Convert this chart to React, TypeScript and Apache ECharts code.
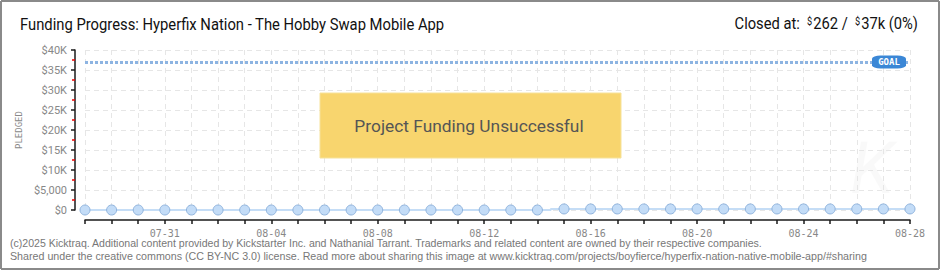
import React, { useEffect, useRef } from "react";
import * as echarts from "echarts";

const dates = [
  "07-28", "07-29", "07-30", "07-31", "08-01", "08-02", "08-03", "08-04",
  "08-05", "08-06", "08-07", "08-08", "08-09", "08-10", "08-11", "08-12",
  "08-13", "08-14", "08-15", "08-16", "08-17", "08-18", "08-19", "08-20",
  "08-21", "08-22", "08-23", "08-24", "08-25", "08-26", "08-27", "08-28",
];
const pledged = [
  0, 0, 0, 0, 0, 0, 0, 0,
  0, 0, 0, 0, 0, 0, 0, 0,
  0, 0, 262, 262, 262, 262, 262, 262,
  262, 262, 262, 262, 262, 262, 262, 262,
];
const goal = 37000;
const titleText = "Funding Progress: Hyperfix Nation - The Hobby Swap Mobile App";
const footerLines = [
  "(c)2025 Kicktraq. Additional content provided by Kickstarter Inc. and Nathanial Tarrant. Trademarks and related content are owned by their respective companies.",
  "Shared under the creative commons (CC BY-NC 3.0) license. Read more about sharing this image at www.kicktraq.com/projects/boyfierce/hyperfix-nation-native-mobile-app/#sharing",
];

function fmtY(v: number): string {
  if (v === 0) return "$0";
  if (v < 10000) return "$" + v.toLocaleString("en-US");
  return "$" + v / 1000 + "K";
}

const AXIS_COLOR = "#1a1a1a";

export default function App() {
  const ref = useRef<HTMLDivElement>(null);
  useEffect(() => {
    if (!ref.current) return;
    const chart = echarts.init(ref.current, undefined, { renderer: "svg" });
    chart.setOption({
      animation: false,
      backgroundColor: "#fff",
      grid: [
        { left: 85, right: 30, top: 50, bottom: 60 },
        { left: 85, right: 30, top: 210, height: 10 },
      ],
      xAxis: [
        {
          type: "category",
          gridIndex: 0,
          data: dates,
          boundaryGap: false,
          axisLine: { show: false },
          axisTick: { show: false },
          axisLabel: { show: false },
          splitLine: { show: true, interval: 0, lineStyle: { color: "#e6e6e6", type: [5, 4] } },
        },
        {
          type: "category",
          gridIndex: 1,
          data: dates,
          boundaryGap: false,
          axisLine: { show: true, lineStyle: { color: AXIS_COLOR, width: 1.5 } },
          axisTick: { show: true, interval: 0, length: 4, lineStyle: { color: AXIS_COLOR, width: 1.5 } },
          axisLabel: {
            interval: 0,
            color: "#888",
            fontSize: 10,
            fontFamily: "DejaVu Sans Mono",
            margin: 8,
            formatter: (v: string, i: number) => (i % 4 === 3 ? v : ""),
          },
          splitLine: { show: false },
        },
      ],
      yAxis: [
        {
          type: "value",
          gridIndex: 0,
          min: 0,
          max: 40000,
          interval: 5000,
          offset: 10,
          name: "PLEDGED",
          nameLocation: "middle",
          nameGap: 52,
          nameTextStyle: { color: "#888", fontSize: 9, fontFamily: "DejaVu Sans Mono" },
          axisLine: { show: true, lineStyle: { color: AXIS_COLOR, width: 1.5 } },
          axisTick: { show: true, length: 4, lineStyle: { color: AXIS_COLOR, width: 1.5 } },
          minorTick: { show: true, splitNumber: 2, length: 3, lineStyle: { color: "#e00", width: 1.5 } },
          axisLabel: { formatter: fmtY, color: "#888", fontSize: 11, fontFamily: "Roboto", margin: 8 },
          splitLine: { show: true, lineStyle: { color: "#e6e6e6", type: [5, 4] } },
        },
        { type: "value", gridIndex: 1, min: 0, max: 1, show: false },
      ],
      series: [
        {
          type: "line",
          xAxisIndex: 0,
          yAxisIndex: 0,
          data: pledged,
          step: "middle",
          symbol: "circle",
          symbolSize: 10,
          z: 5,
          itemStyle: { color: "#c3dcf7", borderColor: "#8fb3dd", borderWidth: 1 },
          lineStyle: { color: "#c5ddf6", width: 2 },
          markLine: {
            silent: true,
            symbol: "none",
            label: { show: false },
            lineStyle: { color: "#8db4e2", type: [3, 2], width: 3 },
            data: [{ yAxis: goal }],
          },
          markPoint: {
            silent: true,
            data: [
              {
                coord: [dates[dates.length - 1], goal],
                symbol: "roundRect",
                symbolSize: [34, 13],
                symbolOffset: [-21, 0],
                itemStyle: { color: "#3b87d6" },
                label: {
                  show: true,
                  position: "inside",
                  formatter: "GOAL",
                  color: "#fff",
                  fontSize: 9,
                  fontWeight: "bold",
                  fontFamily: "DejaVu Sans Mono",
                },
              },
            ],
          },
        },
        { type: "line", xAxisIndex: 1, yAxisIndex: 1, data: [] },
      ],
      graphic: [
        {
          type: "line",
          shape: { x1: 1, y1: 1, x2: 939, y2: 1 },
          style: { stroke: "#8a8a8a", lineWidth: 2 },
          silent: true,
        },
        {
          type: "line",
          shape: { x1: 1, y1: 269, x2: 939, y2: 269 },
          style: { stroke: "#8a8a8a", lineWidth: 2 },
          silent: true,
        },
        {
          type: "line",
          shape: { x1: 1, y1: 1, x2: 1, y2: 269 },
          style: { stroke: "#8a8a8a", lineWidth: 2 },
          silent: true,
        },
        {
          type: "line",
          shape: { x1: 939, y1: 1, x2: 939, y2: 269 },
          style: { stroke: "#8a8a8a", lineWidth: 2 },
          silent: true,
        },
        {
          type: "text",
          x: 850,
          y: 132,
          silent: true,
          style: { text: "K", font: "italic 72px Roboto", fill: "rgba(0,0,0,0.025)" },
        },
        {
          type: "text",
          x: 20,
          y: 24,
          scaleX: 0.87,
          style: {
            x: 0, y: 0,
            text: titleText,
            font: "17px Roboto",
            fill: "#111",
            align: "left",
            verticalAlign: "middle",
          },
        },
        {
          type: "text",
          x: 918,
          y: 24,
          scaleX: 0.92,
          style: {
            x: 0, y: 0,
            align: "right",
            verticalAlign: "middle",
            text: "{a|Closed at:  }{s|$}{a|262 /  }{s|$}{a|37k (0%)}",
            rich: {
              a: { font: "16px Roboto", fill: "#111" },
              s: { font: "10px Roboto", fill: "#111", verticalAlign: "top", padding: [0, 1, 6, 0] },
            },
          },
        },
        {
          type: "rect",
          shape: { x: 320, y: 93, width: 301, height: 65 },
          style: { fill: "#f8d56e", stroke: "#f6e29a", lineWidth: 1 },
          z: 10,
        },
        {
          type: "text",
          x: 469,
          y: 126,
          scaleX: 1.02,
          z: 11,
          style: {
            x: 0, y: 0,
            text: "Project Funding Unsuccessful",
            font: "17px Roboto",
            fill: "#555",
            align: "center",
            verticalAlign: "middle",
            textShadowColor: "#fff",
            textShadowOffsetX: 1,
            textShadowOffsetY: 1,
            textShadowBlur: 0,
          },
        },
        {
          type: "text",
          x: 10,
          y: 243,
          scaleX: 0.96,
          style: { x: 0, y: 0, text: footerLines[0], font: "11px 'Liberation Sans'", fill: "#777", verticalAlign: "middle" },
        },
        {
          type: "text",
          x: 10,
          y: 256,
          scaleX: 0.972,
          style: { x: 0, y: 0, text: footerLines[1], font: "11px 'Liberation Sans'", fill: "#777", verticalAlign: "middle" },
        },
      ],
    });
    return () => chart.dispose();
  }, []);
  return (
    <div
      ref={ref}
      style={{ position: "absolute", left: 0, top: 0, width: 940, height: 270 }}
    />
  );
}
